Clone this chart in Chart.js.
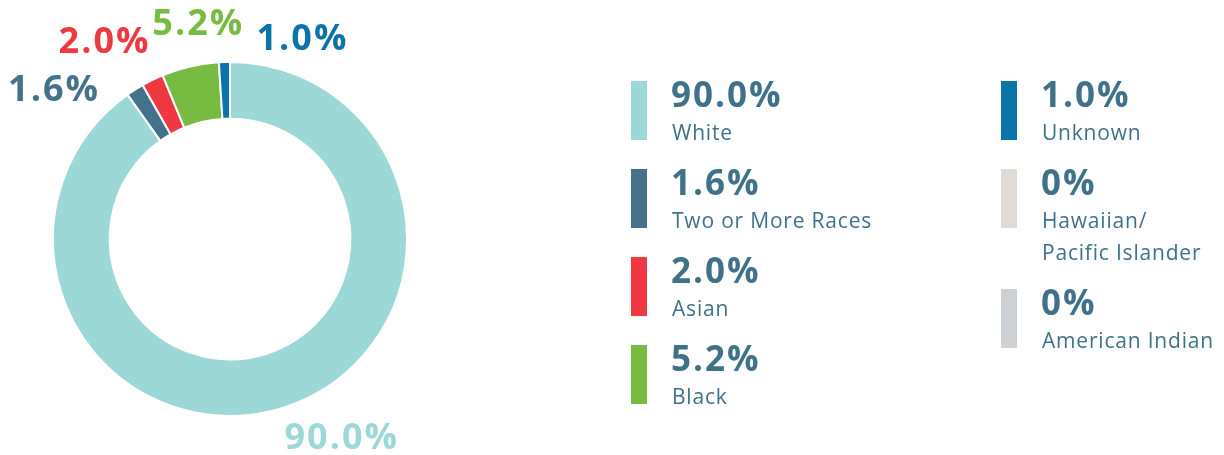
<!DOCTYPE html>
<html>
<head>
<meta charset="utf-8">
<script src="https://cdn.jsdelivr.net/npm/chart.js@4"></script>
<style>
  html, body { margin: 0; padding: 0; background: #fff; }
  #wrap { position: relative; width: 1224px; height: 455px; }
</style>
</head>
<body>
<div id="wrap"><canvas id="raceChart"></canvas></div>
<script>
const categories = ['White', 'Two or More Races', 'Asian', 'Black', 'Unknown', ['Hawaiian/', 'Pacific Islander'], 'American Indian'];
const shares = [90.0, 1.6, 2.0, 5.2, 1.0, 0, 0];
const sliceColors = ['#9dd8d8', '#43728a', '#ef3842', '#78bb43', '#0a73a8', '#dfdad4', '#cdd1d3'];
// nudges for the outside labels, measured from each arc's outer midpoint
const labelNudges = [[58, 31], [-81, 1], [-48, -37], [8, -42], [78, -22], null, null];
const legendColumns = [[0, 1, 2, 3], [4, 5, 6]];

const textColor = '#3f7189';
const fmt = v => v === 0 ? '0%' : v.toFixed(1) + '%';

const outsideLabels = {
  id: 'outsideLabels',
  afterDatasetsDraw(chart) {
    const ctx = chart.ctx;
    const arcs = chart.getDatasetMeta(0).data;
    ctx.save();
    ctx.font = '700 36px "Open Sans"';
    ctx.letterSpacing = '2px';
    ctx.textAlign = 'center';
    ctx.textBaseline = 'middle';
    arcs.forEach((arc, i) => {
      if (!labelNudges[i] || shares[i] === 0) return;
      const p = arc.getProps(['x', 'y', 'startAngle', 'endAngle', 'outerRadius']);
      const mid = (p.startAngle + p.endAngle) / 2;
      const x = p.x + Math.cos(mid) * p.outerRadius + labelNudges[i][0];
      const y = p.y + Math.sin(mid) * p.outerRadius + labelNudges[i][1];
      ctx.fillStyle = sliceColors[i];
      ctx.fillText(fmt(shares[i]), x, y);
    });
    ctx.restore();
  }
};

const sideLegend = {
  id: 'sideLegend',
  afterDraw(chart) {
    const ctx = chart.ctx;
    const colX = [631, 1001];
    ctx.save();
    legendColumns.forEach((col, c) => {
      let y = 81;
      col.forEach(i => {
        const lines = Array.isArray(categories[i]) ? categories[i] : [categories[i]];
        ctx.fillStyle = sliceColors[i];
        ctx.fillRect(colX[c], y, 16, 59);
        ctx.fillStyle = textColor;
        ctx.textAlign = 'left';
        ctx.textBaseline = 'alphabetic';
        ctx.font = '700 35px "Open Sans"';
        ctx.letterSpacing = '2px';
        ctx.fillText(fmt(shares[i]), colX[c] + 40, y + 26);
        ctx.font = '400 21px "Open Sans"';
        ctx.letterSpacing = '0.8px';
        lines.forEach((t, k) => ctx.fillText(t, colX[c] + 41, y + 59 + k * 32));
        y += 88 + (lines.length - 1) * 32;
      });
    });
    ctx.restore();
  }
};

new Chart(document.getElementById('raceChart'), {
  type: 'doughnut',
  data: {
    labels: categories,
    datasets: [{
      data: shares,
      backgroundColor: sliceColors,
      borderColor: '#ffffff',
      borderWidth: 2
    }]
  },
  options: {
    responsive: true,
    maintainAspectRatio: false,
    animation: false,
    cutout: '68%',
    layout: { padding: { left: 52, top: 61, right: 816, bottom: 38 } },
    plugins: {
      legend: { display: false },
      tooltip: { enabled: false }
    }
  },
  plugins: [outsideLabels, sideLegend]
});
</script>
</body>
</html>
